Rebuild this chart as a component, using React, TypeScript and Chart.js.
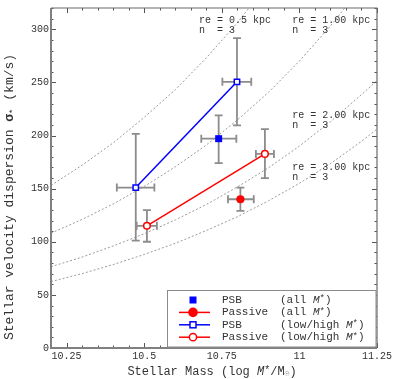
import React, { useEffect, useRef } from "react";
import { Chart, registerables } from "chart.js";

Chart.register(...registerables);

const MONO = '"Liberation Mono", "DejaVu Sans Mono", monospace';

// Model curves (σ vs log M* for fixed re, n = 3)
const massGrid = [10.2, 10.3, 10.4, 10.5, 10.6, 10.7, 10.8, 10.9, 11.0, 11.1, 11.2, 11.25];
const sigmaRe05 = [153, 172, 193, 217, 243, 273, 306, 343];
const sigmaRe10 = [108, 121, 135.5, 152, 170.5, 191, 214.5, 240.5, 270, 303, 340];
const sigmaRe20 = [76.5, 85.5, 96, 107.5, 120.5, 135, 151.5, 169.5, 190, 213, 238.5, 251.5];
const sigmaRe30 = [62.5, 70, 78.5, 88, 98.5, 110.5, 123.5, 138.5, 155, 173.5, 194.5, 206];

// PSB (all M*)
const psbAllMass = [10.74];
const psbAllSigma = [197];
const psbAllMassLo = [10.684];
const psbAllMassHi = [10.797];
const psbAllSigmaLo = [174];
const psbAllSigmaHi = [219];

// Passive (all M*)
const pasAllMass = [10.81];
const pasAllSigma = [140];
const pasAllMassLo = [10.77];
const pasAllMassHi = [10.853];
const pasAllSigmaLo = [129];
const pasAllSigmaHi = [151];

// PSB (low/high M*)
const psbLHMass = [10.473, 10.799];
const psbLHSigma = [151, 250.5];
const psbLHMassLo = [10.412, 10.752];
const psbLHMassHi = [10.533, 10.845];
const psbLHSigmaLo = [101, 209.5];
const psbLHSigmaHi = [201.5, 291.6];

// Passive (low/high M*)
const pasLHMass = [10.509, 10.889];
const pasLHSigma = [115, 182.7];
const pasLHMassLo = [10.476, 10.86];
const pasLHMassHi = [10.541, 10.918];
const pasLHSigmaLo = [100, 159.8];
const pasLHSigmaHi = [129.8, 206];

// Axis ticks
const xTickValues = [10.25, 10.5, 10.75, 11, 11.25];
const xTickLabels = ["10.25", "10.5", "10.75", "11", "11.25"];
const yTickValues = [0, 50, 100, 150, 200, 250, 300];
const yTickLabels = ["0", "50", "100", "150", "200", "250", "300"];
const xMinorStep = 0.05;
const yMinorStep = 10;

// Curve annotations: [text line 1, text line 2, mass, sigma line1, sigma line2]
const annTexts = ["re = 0.5 kpc", "re = 1.00 kpc", "re = 2.00 kpc", "re = 3.00 kpc"];
const annSub = ["n  = 3", "n  = 3", "n  = 3", "n  = 3"];
const annMass = [10.677, 10.977, 10.977, 10.977];
const annSigma1 = [308.7, 308.7, 219.2, 169.7];
const annSigma2 = [299.4, 299.4, 209.8, 160.4];

const BLUE = "#0000ff";
const RED = "#ff0000";
const ERR = "#8c8c8c";

type Seg = { t: string; style?: string; size?: number; dy?: number };

function segFont(s: Seg, base: number) {
  return `${s.style || ""} ${s.size || base}px ${MONO}`.trim();
}

function measureSegs(ctx: CanvasRenderingContext2D, segs: Seg[], base: number) {
  return segs.map((s) => {
    ctx.font = segFont(s, base);
    return ctx.measureText(s.t).width;
  });
}

function drawSegs(ctx: CanvasRenderingContext2D, segs: Seg[], x: number, y: number, base: number, align: "left" | "center") {
  const ws = measureSegs(ctx, segs, base);
  const total = ws.reduce((a, b) => a + b, 0);
  let cx = align === "center" ? x - total / 2 : x;
  ctx.textAlign = "left";
  ctx.textBaseline = "middle";
  segs.forEach((s, i) => {
    ctx.font = segFont(s, base);
    ctx.fillText(s.t, cx, y + (s.dy || 0));
    cx += ws[i];
  });
}

function pts(xs: number[], ys: number[]) {
  return ys.map((y, i) => ({ x: xs[i], y }));
}

const errorSets = [
  { m: psbAllMass, s: psbAllSigma, mlo: psbAllMassLo, mhi: psbAllMassHi, slo: psbAllSigmaLo, shi: psbAllSigmaHi },
  { m: pasAllMass, s: pasAllSigma, mlo: pasAllMassLo, mhi: pasAllMassHi, slo: pasAllSigmaLo, shi: pasAllSigmaHi },
  { m: psbLHMass, s: psbLHSigma, mlo: psbLHMassLo, mhi: psbLHMassHi, slo: psbLHSigmaLo, shi: psbLHSigmaHi },
  { m: pasLHMass, s: pasLHSigma, mlo: pasLHMassLo, mhi: pasLHMassHi, slo: pasLHSigmaLo, shi: pasLHSigmaHi },
];

const customPlugin = {
  id: "custom",
  afterDatasetDraw(chart: any, args: any) {
    if (args.index !== 4) return;
    const ctx: CanvasRenderingContext2D = chart.ctx;
    const xs = chart.scales.x;
    const ys = chart.scales.y;
    const cap = 4;
    ctx.save();
    ctx.strokeStyle = ERR;
    ctx.lineWidth = 1.8;
    ctx.lineCap = "butt";
    errorSets.forEach((e) => {
      e.m.forEach((m, i) => {
        const px = xs.getPixelForValue(m);
        const py = ys.getPixelForValue(e.s[i]);
        const x0 = xs.getPixelForValue(e.mlo[i]);
        const x1 = xs.getPixelForValue(e.mhi[i]);
        const y0 = ys.getPixelForValue(e.slo[i]);
        const y1 = ys.getPixelForValue(e.shi[i]);
        ctx.beginPath();
        ctx.moveTo(x0, py);
        ctx.lineTo(x1, py);
        ctx.moveTo(x0, py - cap);
        ctx.lineTo(x0, py + cap);
        ctx.moveTo(x1, py - cap);
        ctx.lineTo(x1, py + cap);
        ctx.moveTo(px, y0);
        ctx.lineTo(px, y1);
        ctx.moveTo(px - cap, y0);
        ctx.lineTo(px + cap, y0);
        ctx.moveTo(px - cap, y1);
        ctx.lineTo(px + cap, y1);
        ctx.stroke();
      });
    });
    ctx.restore();
  },
  afterDatasetsDraw(chart: any) {
    const ctx: CanvasRenderingContext2D = chart.ctx;
    const { left, right, top, bottom } = chart.chartArea;
    const xs = chart.scales.x;
    const ys = chart.scales.y;
    ctx.save();
    // ticks (inward, all four sides)
    ctx.strokeStyle = "#555";
    ctx.lineWidth = 1;
    ctx.beginPath();
    const major = 5;
    const minor = 2.5;
    for (let v = xs.min; v <= xs.max + 1e-9; v += xMinorStep) {
      const vv = Math.round(v * 100) / 100;
      const isMajor = xTickValues.some((t) => Math.abs(t - vv) < 1e-6);
      const len = isMajor ? major : minor;
      const px = Math.round(xs.getPixelForValue(vv)) + 0.5;
      ctx.moveTo(px, bottom);
      ctx.lineTo(px, bottom - len);
      ctx.moveTo(px, top);
      ctx.lineTo(px, top + len);
    }
    for (let v = ys.min; v <= ys.max + 1e-9; v += yMinorStep) {
      const isMajor = yTickValues.some((t) => Math.abs(t - v) < 1e-6);
      const len = isMajor ? major : minor;
      const py = Math.round(ys.getPixelForValue(v)) + 0.5;
      ctx.moveTo(left, py);
      ctx.lineTo(left + len, py);
      ctx.moveTo(right, py);
      ctx.lineTo(right - len, py);
    }
    ctx.stroke();
    // frame
    ctx.strokeStyle = "#808080";
    ctx.lineWidth = 2;
    ctx.beginPath();
    ctx.moveTo(left, top);
    ctx.lineTo(left, bottom);
    ctx.lineTo(right, bottom);
    ctx.stroke();
    ctx.strokeStyle = "#6a6a6a";
    ctx.lineWidth = 1.2;
    ctx.beginPath();
    ctx.moveTo(left, top);
    ctx.lineTo(right, top);
    ctx.lineTo(right, bottom);
    ctx.stroke();
    ctx.restore();
  },
  afterDraw(chart: any) {
    const ctx: CanvasRenderingContext2D = chart.ctx;
    const { left, right, top, bottom } = chart.chartArea;
    const xs = chart.scales.x;
    const ys = chart.scales.y;
    ctx.save();

    // curve annotations
    ctx.fillStyle = "#333";
    annTexts.forEach((t, i) => {
      const px = xs.getPixelForValue(annMass[i]);
      drawSegs(ctx, [{ t }], px, ys.getPixelForValue(annSigma1[i]), 10, "left");
      drawSegs(ctx, [{ t: annSub[i] }], px, ys.getPixelForValue(annSigma2[i]), 10, "left");
    });

    // legend
    const lx0 = right - 210;
    const ly0 = bottom - 58;
    ctx.fillStyle = "#ffffff";
    ctx.fillRect(lx0, ly0, right - 1 - lx0, bottom - 1 - ly0);
    ctx.strokeStyle = "#8a8a8a";
    ctx.lineWidth = 1;
    ctx.strokeRect(lx0 + 0.5, ly0 + 0.5, right - 1.5 - lx0, bottom - 1.5 - ly0);
    const symX = lx0 + 26;
    const lineX0 = lx0 + 12;
    const lineX1 = lx0 + 43;
    const nameX = lx0 + 55;
    const qualX = lx0 + 113;
    const rows = [
      { name: "PSB", q: "all", color: BLUE, line: false, marker: "sqfill" },
      { name: "Passive", q: "all", color: RED, line: true, marker: "cfill" },
      { name: "PSB", q: "low/high", color: BLUE, line: true, marker: "sqopen" },
      { name: "Passive", q: "low/high", color: RED, line: true, marker: "copen" },
    ];
    rows.forEach((r, i) => {
      const y = ly0 + 10 + i * 12.4;
      ctx.strokeStyle = r.color;
      ctx.fillStyle = r.color;
      ctx.lineWidth = 1.5;
      if (r.line) {
        ctx.beginPath();
        ctx.moveTo(lineX0, y);
        ctx.lineTo(lineX1, y);
        ctx.stroke();
      }
      if (r.marker === "sqfill") {
        ctx.fillRect(symX - 3.5, y - 3.5, 7, 7);
      } else if (r.marker === "cfill") {
        ctx.beginPath();
        ctx.arc(symX, y, 4.8, 0, Math.PI * 2);
        ctx.fill();
      } else if (r.marker === "sqopen") {
        ctx.fillStyle = "#fff";
        ctx.fillRect(symX - 3, y - 3, 6, 6);
        ctx.strokeRect(symX - 3, y - 3, 6, 6);
      } else {
        ctx.fillStyle = "#fff";
        ctx.beginPath();
        ctx.arc(symX, y, 3.6, 0, Math.PI * 2);
        ctx.fill();
        ctx.stroke();
      }
      ctx.fillStyle = "#333";
      drawSegs(ctx, [{ t: r.name }], nameX, y, 11, "left");
      drawSegs(
        ctx,
        [{ t: "(" + r.q + " " }, { t: "M", style: "italic" }, { t: "*", size: 9, dy: -1 }, { t: ")" }],
        qualX,
        y,
        11,
        "left"
      );
    });

    // axis titles
    ctx.fillStyle = "#333";
    drawSegs(
      ctx,
      [
        { t: "Stellar Mass (log " },
        { t: "M", style: "italic" },
        { t: "*", size: 10, dy: -1 },
        { t: "/M" },
        { t: "\u2609", size: 8, dy: 2 },
        { t: ")" },
      ],
      (left + right) / 2 - 2,
      371.5,
      12,
      "center"
    );
    ctx.translate(10, 197);
    ctx.rotate(-Math.PI / 2);
    drawSegs(
      ctx,
      [
        { t: "Stellar velocity dispersion " },
        { t: "\u03c3", style: "bold" },
        { t: "*", size: 9, dy: 4 },
        { t: " (km/s)" },
      ],
      0,
      0,
      13,
      "center"
    );
    ctx.restore();
  },
};

export default function App() {
  const ref = useRef<HTMLCanvasElement | null>(null);
  useEffect(() => {
    if (!ref.current) return;
    const curveStyle = {
      showLine: true,
      borderColor: "#9a9a9a",
      borderWidth: 1,
      borderDash: [2, 2],
      pointRadius: 0,
      fill: false,
    };
    const chart = new Chart(ref.current, {
      type: "scatter",
      data: {
        datasets: [
          {
            label: "PSB (all M*)",
            data: pts(psbAllMass, psbAllSigma),
            pointStyle: "rect",
            pointRadius: 4.95,
            backgroundColor: BLUE,
            borderColor: BLUE,
            borderWidth: 0,
            showLine: false,
          },
          {
            label: "Passive (all M*)",
            data: pts(pasAllMass, pasAllSigma),
            pointStyle: "circle",
            pointRadius: 4.1,
            backgroundColor: RED,
            borderColor: RED,
            borderWidth: 0,
            showLine: false,
          },
          {
            label: "PSB (low/high M*)",
            data: pts(psbLHMass, psbLHSigma),
            showLine: true,
            borderColor: BLUE,
            borderWidth: 1.5,
            pointStyle: "rect",
            pointRadius: 3.8,
            pointBackgroundColor: "#ffffff",
            pointBorderColor: BLUE,
            pointBorderWidth: 1.5,
          },
          {
            label: "Passive (low/high M*)",
            data: pts(pasLHMass, pasLHSigma),
            showLine: true,
            borderColor: RED,
            borderWidth: 1.5,
            pointStyle: "circle",
            pointRadius: 3.3,
            pointBackgroundColor: "#ffffff",
            pointBorderColor: RED,
            pointBorderWidth: 1.5,
          },
          { label: "re = 0.5 kpc", data: pts(massGrid, sigmaRe05), ...curveStyle },
          { label: "re = 1.00 kpc", data: pts(massGrid, sigmaRe10), ...curveStyle },
          { label: "re = 2.00 kpc", data: pts(massGrid, sigmaRe20), ...curveStyle },
          { label: "re = 3.00 kpc", data: pts(massGrid, sigmaRe30), ...curveStyle },
        ] as any,
      },
      options: {
        responsive: false,
        animation: false,
        events: [],
        layout: { padding: { top: 5, right: 30, left: 0, bottom: 0 } },
        plugins: { legend: { display: false }, tooltip: { enabled: false } },
        scales: {
          x: {
            type: "linear",
            min: 10.2,
            max: 11.25,
            afterFit: (s: any) => {
              s.height = 31;
            },
            afterBuildTicks: (s: any) => {
              s.ticks = xTickValues.map((v) => ({ value: v }));
            },
            grid: { display: false, drawTicks: false },
            border: { display: false },
            ticks: {
              padding: 2,
              autoSkip: false,
              maxRotation: 0,
              color: "#333",
              font: { family: MONO, size: 10 },
              callback: (v: any) => {
                const i = xTickValues.findIndex((t) => Math.abs(t - Number(v)) < 1e-6);
                return i >= 0 ? xTickLabels[i] : "";
              },
            },
          },
          y: {
            type: "linear",
            min: 0,
            max: 320,
            afterFit: (s: any) => {
              s.width = 51;
            },
            afterBuildTicks: (s: any) => {
              s.ticks = yTickValues.map((v) => ({ value: v }));
            },
            grid: { display: false, drawTicks: false },
            border: { display: false },
            ticks: {
              padding: 2,
              autoSkip: false,
              color: "#333",
              font: { family: MONO, size: 10 },
              callback: (v: any) => {
                const i = yTickValues.findIndex((t) => Math.abs(t - Number(v)) < 1e-6);
                return i >= 0 ? yTickLabels[i] : "";
              },
            },
          },
        },
      } as any,
      plugins: [customPlugin],
    });
    return () => chart.destroy();
  }, []);
  return (
    <div style={{ position: "absolute", left: 0, top: 0, width: 407, height: 379, background: "#fff" }}>
      <canvas ref={ref} width={407} height={379} style={{ display: "block" }} />
    </div>
  );
}
